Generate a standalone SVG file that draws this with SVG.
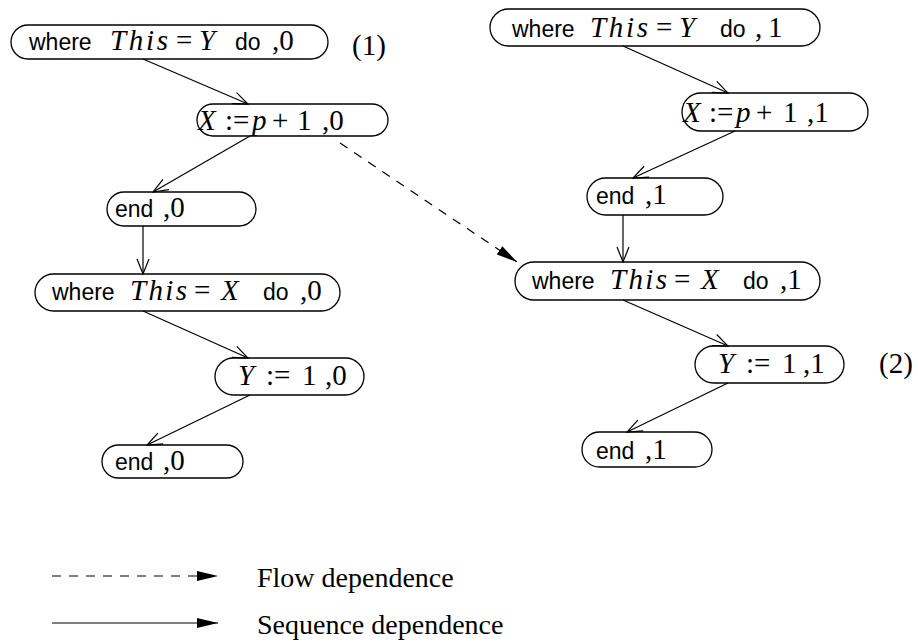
<svg xmlns="http://www.w3.org/2000/svg" width="918" height="643" viewBox="0 0 918 643">
<style>
.box{fill:none;stroke:#000;stroke-width:1.3}
.ss{font-family:"Liberation Sans",Arial,sans-serif;font-size:23px}
.rm{font-family:"Liberation Serif","Times New Roman",serif;font-size:29px}
.it{font-family:"Liberation Serif","Times New Roman",serif;font-size:29px;font-style:italic}
.lg{font-family:"Liberation Serif","Times New Roman",serif;font-size:28px}
.seq{stroke:#000;stroke-width:1.2;fill:none;marker-end:url(#open)}
.flow{stroke:#000;stroke-width:1.2;fill:none;stroke-dasharray:9 8;marker-end:url(#fill)}
</style>
<defs>
<marker id="open" markerUnits="userSpaceOnUse" markerWidth="18" markerHeight="14" refX="16" refY="7" orient="auto" viewBox="0 0 18 14">
<path d="M1,1 L16,7 L1,13" fill="none" stroke="#000" stroke-width="1.2"/>
</marker>
<marker id="fill" markerUnits="userSpaceOnUse" markerWidth="22" markerHeight="12" refX="21" refY="6" orient="auto" viewBox="0 0 22 12">
<path d="M0,1 L21,6 L0,11 Z" fill="#000"/>
</marker>
</defs>
<rect width="918" height="643" fill="#fff"/>

<g id="connectors">
<line class="seq" x1="143" y1="59" x2="248" y2="104"/>
<line class="seq" x1="250" y1="136" x2="153" y2="192"/>
<line class="seq" x1="143" y1="226" x2="143" y2="274"/>
<line class="seq" x1="143" y1="311" x2="248" y2="358"/>
<line class="seq" x1="250" y1="395" x2="147" y2="445"/>
<line class="seq" x1="623" y1="46" x2="728" y2="93"/>
<line class="seq" x1="735" y1="131" x2="633" y2="178"/>
<line class="seq" x1="623" y1="215" x2="623" y2="262"/>
<line class="seq" x1="623" y1="300" x2="728" y2="346"/>
<line class="seq" x1="728" y1="383" x2="627" y2="432"/>
<line class="flow" x1="340" y1="143" x2="517" y2="262"/>
</g>

<g id="n1">
<rect class="box" x="11" y="25" width="317" height="34" rx="17"/>
<text y="50"><tspan class="ss" x="29">where</tspan><tspan class="it" x="110" textLength="58" lengthAdjust="spacing">This</tspan><tspan class="rm" x="176">=</tspan><tspan class="it" x="199">Y</tspan><tspan class="ss" x="235">do</tspan><tspan class="rm" x="272">,0</tspan></text>
</g>
<text id="lbl1" class="rm" x="352" y="55">(1)</text>

<g id="n2">
<rect class="box" x="197" y="104" width="191" height="32" rx="16"/>
<text y="130"><tspan class="it" x="198">X</tspan><tspan class="rm" x="225">:=</tspan><tspan class="it" x="252">p</tspan><tspan class="rm" x="272">+</tspan><tspan class="rm" x="297">1</tspan><tspan class="rm" x="322">,0</tspan></text>
</g>

<g id="n3">
<rect class="box" x="107" y="192" width="149" height="34" rx="17"/>
<text y="217"><tspan class="ss" x="115">end</tspan><tspan class="rm" x="163">,0</tspan></text>
</g>

<g id="n4">
<rect class="box" x="35" y="274" width="305" height="37" rx="18.5"/>
<text y="300"><tspan class="ss" x="52">where</tspan><tspan class="it" x="130" textLength="57" lengthAdjust="spacing">This</tspan><tspan class="rm" x="194">=</tspan><tspan class="it" x="221">X</tspan><tspan class="ss" x="263">do</tspan><tspan class="rm" x="300">,0</tspan></text>
</g>

<g id="n5">
<rect class="box" x="215" y="358" width="149" height="37" rx="18.5"/>
<text y="385"><tspan class="it" x="238">Y</tspan><tspan class="rm" x="266">:=</tspan><tspan class="rm" x="302">1</tspan><tspan class="rm" x="325">,0</tspan></text>
</g>

<g id="n6">
<rect class="box" x="102" y="445" width="141" height="33" rx="16.5"/>
<text y="470"><tspan class="ss" x="115">end</tspan><tspan class="rm" x="163">,0</tspan></text>
</g>

<g id="r1">
<rect class="box" x="490" y="9" width="330" height="37" rx="18.5"/>
<text y="37"><tspan class="ss" x="512">where</tspan><tspan class="it" x="590" textLength="58" lengthAdjust="spacing">This</tspan><tspan class="rm" x="656">=</tspan><tspan class="it" x="679">Y</tspan><tspan class="ss" x="720">do</tspan><tspan class="rm" x="755">,</tspan><tspan class="rm" x="768">1</tspan></text>
</g>

<g id="r2">
<rect class="box" x="682" y="93" width="186" height="38" rx="19"/>
<text y="122"><tspan class="it" x="683">X</tspan><tspan class="rm" x="709">:=</tspan><tspan class="it" x="736">p</tspan><tspan class="rm" x="756">+</tspan><tspan class="rm" x="783">1</tspan><tspan class="rm" x="807">,1</tspan></text>
</g>

<g id="r3">
<rect class="box" x="587" y="178" width="136" height="37" rx="18.5"/>
<text y="204"><tspan class="ss" x="596">end</tspan><tspan class="rm" x="645">,1</tspan></text>
</g>

<g id="r4">
<rect class="box" x="515" y="262" width="305" height="38" rx="19"/>
<text y="289"><tspan class="ss" x="532">where</tspan><tspan class="it" x="610" textLength="57" lengthAdjust="spacing">This</tspan><tspan class="rm" x="674">=</tspan><tspan class="it" x="701">X</tspan><tspan class="ss" x="743">do</tspan><tspan class="rm" x="780">,1</tspan></text>
</g>

<g id="r5">
<rect class="box" x="695" y="346" width="149" height="37" rx="18.5"/>
<text y="373"><tspan class="it" x="718">Y</tspan><tspan class="rm" x="746">:=</tspan><tspan class="rm" x="782">1</tspan><tspan class="rm" x="803">,1</tspan></text>
</g>
<text id="lbl2" class="rm" x="879" y="373">(2)</text>

<g id="r6">
<rect class="box" x="582" y="432" width="130" height="35" rx="17.5"/>
<text y="459"><tspan class="ss" x="596">end</tspan><tspan class="rm" x="645">,1</tspan></text>
</g>

<g id="legend">
<line class="flow" x1="52" y1="576" x2="218" y2="576"/>
<line x1="52" y1="623" x2="218" y2="623" stroke="#000" stroke-width="1.2" marker-end="url(#fill)"/>
<text class="lg" x="257" y="587">Flow dependence</text>
<text class="lg" x="257" y="634">Sequence dependence</text>
</g>
</svg>
